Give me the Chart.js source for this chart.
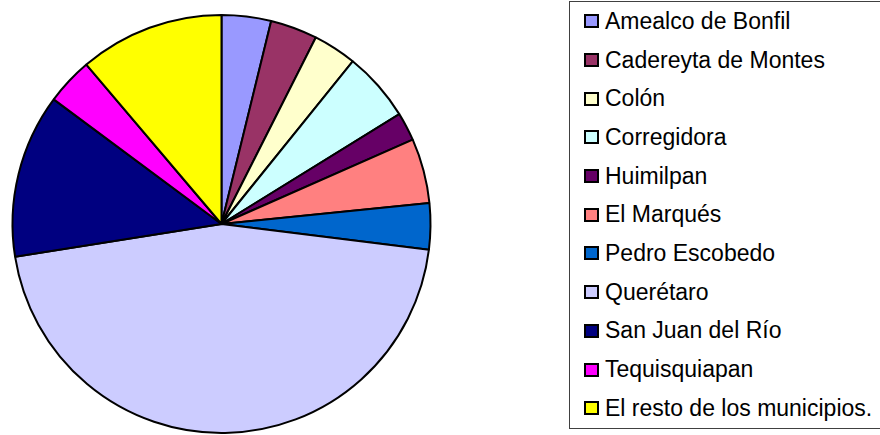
<!DOCTYPE html>
<html lang="es">
<head>
<meta charset="utf-8">
<title>Municipios de Querétaro</title>
<script src="https://cdn.jsdelivr.net/npm/chart.js@4.4.1/dist/chart.umd.min.js"></script>
<style>
    html, body {
        margin: 0;
        padding: 0;
        width: 880px;
        height: 435px;
        overflow: hidden;
        background: #ffffff;
    }
    #chart-box {
        position: absolute;
        left: 0;
        top: 0;
        width: 443px;
        height: 435px;
    }
    #legend {
        position: absolute;
        left: 569px;
        top: 1px;
        width: 330px;
        height: 426px;
        border: 1px solid #404040;
        box-sizing: content-box;
        font-family: "Liberation Sans", Arial, sans-serif;
        font-size: 23px;
        color: #000000;
    }
    #legend ul {
        list-style: none;
        margin: 0;
        padding: 0;
    }
    #legend li {
        display: flex;
        align-items: center;
        height: 38.7px;
        line-height: 1;
        white-space: nowrap;
    }
    #legend .swatch {
        display: inline-block;
        box-sizing: border-box;
        width: 15px;
        height: 14px;
        margin-left: 14px;
        margin-right: 6px;
        border: 2px solid #000000;
    }
</style>
</head>
<body>
<div id="chart-box"><canvas id="pieChart"></canvas></div>
<div id="legend"></div>

<script>
// Municipios (orden del gráfico, en sentido horario desde arriba)
const municipios = [
    'Amealco de Bonfil',
    'Cadereyta de Montes',
    'Colón',
    'Corregidora',
    'Huimilpan',
    'El Marqués',
    'Pedro Escobedo',
    'Querétaro',
    'San Juan del Río',
    'Tequisquiapan',
    'El resto de los municipios.'
];

// Porcentajes (aprox.)
const porcentajes = [3.82, 3.63, 3.35, 5.39, 2.20, 5.01, 3.56, 45.54, 12.67, 3.64, 11.19];

// Colores de la paleta clásica
const colores = [
    '#9999FF', '#993366', '#FFFFCC', '#CCFFFF', '#660066', '#FF8080',
    '#0066CC', '#CCCCFF', '#000080', '#FF00FF', '#FFFF00'
];

document.addEventListener('DOMContentLoaded', function() {
    const canvas = document.getElementById('pieChart');
    if (typeof Chart === 'undefined') {
        console.error('Chart.js not loaded!');
        return;
    }

    const pieChart = new Chart(canvas.getContext('2d'), {
        type: 'pie',
        data: {
            labels: municipios,
            datasets: [{
                data: porcentajes,
                backgroundColor: colores,
                borderColor: '#000000',
                borderWidth: 2
            }]
        },
        options: {
            responsive: true,
            maintainAspectRatio: false,
            animation: false,
            events: [],
            layout: {
                padding: { top: 14, bottom: 1, left: 0, right: 0 }
            },
            plugins: {
                legend: { display: false },
                tooltip: { enabled: false }
            }
        }
    });

    // HTML legend built from the chart's own labels/colours
    const legendEl = document.getElementById('legend');
    const items = pieChart.data.labels.map((label, i) => {
        const color = pieChart.data.datasets[0].backgroundColor[i];
        return `<li><span class="swatch" style="background:${color}"></span>${label}</li>`;
    });
    legendEl.innerHTML = '<ul>' + items.join('') + '</ul>';
});
</script>
</body>
</html>
